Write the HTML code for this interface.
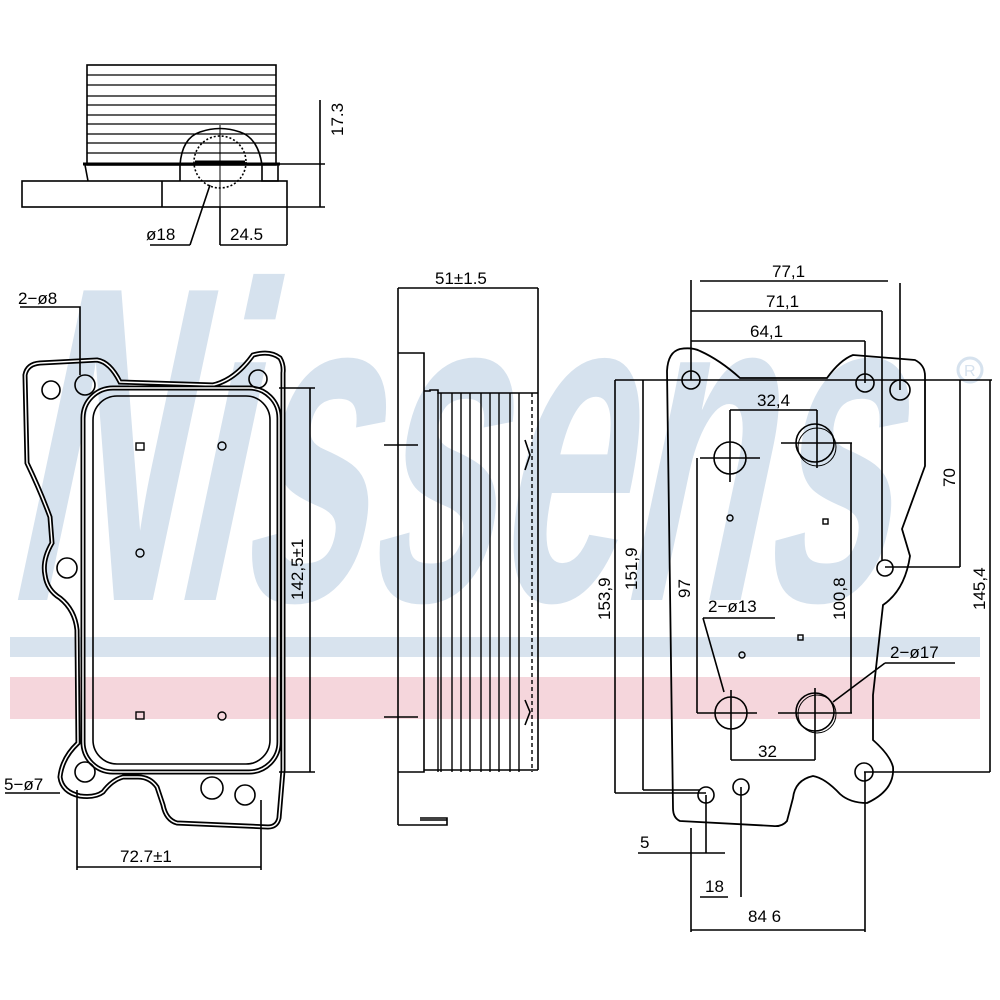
<!DOCTYPE html>
<html><head><meta charset="utf-8"><style>
html,body{margin:0;padding:0;background:#fff;}
svg{display:block;}
text{font-family:"Liberation Sans",sans-serif;fill:#000;}
</style></head><body>
<svg width="1000" height="1000" viewBox="0 0 1000 1000" xmlns="http://www.w3.org/2000/svg">
<!-- watermark -->
<g transform="translate(160 0) skewX(-12)">
<text x="-30" y="600" font-size="450" font-weight="bold" textLength="880" lengthAdjust="spacingAndGlyphs" style="fill:#d6e2ee">Nissens</text>
</g>
<circle cx="970" cy="370" r="12" fill="none" stroke="#d6e2ee" stroke-width="3"/>
<text x="964" y="376" font-size="16" style="fill:#d6e2ee">R</text>
<rect x="10" y="637" width="970" height="20" fill="#d8e3ee"/>
<rect x="10" y="677" width="970" height="42" fill="#f5d6dc"/>

<g fill="none" stroke="#000" stroke-width="1.6">
<!-- TOP VIEW -->
<rect x="87" y="65" width="189" height="100"/>
<g stroke-width="1.2">
<line x1="87" y1="75" x2="276" y2="75"/><line x1="87" y1="85" x2="276" y2="85"/>
<line x1="87" y1="96" x2="276" y2="96"/><line x1="87" y1="105" x2="276" y2="105"/>
<line x1="87" y1="115" x2="276" y2="115"/><line x1="87" y1="124" x2="276" y2="124"/>
<line x1="87" y1="134" x2="276" y2="134"/><line x1="87" y1="143" x2="276" y2="143"/>
<line x1="87" y1="153" x2="276" y2="153"/>
</g>
<line x1="83" y1="164" x2="280" y2="164" stroke-width="3"/>
<path d="M85 165 L88 181 M180 165 V181 M262 165 V181 L278 181 V165"/>
<rect x="22" y="181" width="265" height="26"/>
<line x1="162" y1="181" x2="162" y2="207"/>
<path d="M180 165 Q182 138 200 132 Q220 125 240 132 Q258 138 262 165"/>
<circle cx="220" cy="162" r="26" stroke-dasharray="2 2"/>
<line x1="195" y1="162" x2="245" y2="162" stroke-width="3"/>
<line x1="220" y1="125" x2="220" y2="215" stroke-width="1"/>
<line x1="320" y1="100" x2="320" y2="207"/>
<line x1="280" y1="164" x2="325" y2="164"/><line x1="287" y1="207" x2="325" y2="207"/>
<line x1="210" y1="185" x2="190" y2="245"/>
<line x1="150" y1="245" x2="190" y2="245"/>
<line x1="220" y1="207" x2="220" y2="245"/><line x1="287" y1="207" x2="287" y2="245"/>
<line x1="220" y1="245" x2="287" y2="245"/>

<!-- LEFT VIEW gasket -->
<path stroke-width="5" d="M25 375 Q27 364 40 363 L97 360 Q110 362 120 382 L213 385 Q235 380 253 355 Q270 350 280 358 Q284 365 283 373 L283 770 L279 818 Q277 827 268 827 L177 823 Q166 820 163 805 L157 787 Q150 777 138 777 L123 777 Q112 780 103 792 Q95 798 80 796 Q62 792 60 777 Q62 758 78 743 L77 630 Q75 610 60 598 Q47 590 45 575 Q42 560 52 543 L50 517 Q40 490 27 463 Z"/>
<path stroke="#fff" stroke-width="1.5" d="M25 375 Q27 364 40 363 L97 360 Q110 362 120 382 L213 385 Q235 380 253 355 Q270 350 280 358 Q284 365 283 373 L283 770 L279 818 Q277 827 268 827 L177 823 Q166 820 163 805 L157 787 Q150 777 138 777 L123 777 Q112 780 103 792 Q95 798 80 796 Q62 792 60 777 Q62 758 78 743 L77 630 Q75 610 60 598 Q47 590 45 575 Q42 560 52 543 L50 517 Q40 490 27 463 Z"/>
<rect x="83" y="388" width="196" height="384" rx="30" stroke-width="5"/>
<rect x="83" y="388" width="196" height="384" rx="30" stroke="#fff" stroke-width="1.5"/>
<rect x="93" y="396" width="177" height="368" rx="24"/>
<circle cx="51" cy="390" r="9"/><circle cx="85" cy="385" r="10"/><circle cx="258" cy="379" r="9"/>
<circle cx="67" cy="568" r="10"/><circle cx="85" cy="772" r="10"/><circle cx="212" cy="788" r="11"/><circle cx="245" cy="795" r="10"/>
<g stroke-width="1.4">
<rect x="136" y="443" width="8" height="7"/><circle cx="222" cy="446" r="4"/>
<circle cx="140" cy="553" r="4"/><rect x="136" y="712" width="8" height="7"/><circle cx="222" cy="716" r="4"/>
</g>
<line x1="279" y1="388" x2="315" y2="388"/><line x1="279" y1="772" x2="315" y2="772"/>
<line x1="310" y1="388" x2="310" y2="772"/>
<path d="M20 307 H80 V375"/>
<line x1="5" y1="793" x2="60" y2="793"/>
<line x1="77" y1="790" x2="77" y2="870"/><line x1="261" y1="800" x2="261" y2="870"/>
<line x1="77" y1="867" x2="261" y2="867"/>

<!-- SIDE VIEW -->
<line x1="398" y1="288" x2="398" y2="825"/>
<line x1="398" y1="288" x2="538" y2="288"/>
<line x1="538" y1="288" x2="538" y2="770"/>
<path d="M398 353 H424 V772 H398"/>
<path d="M424 391 H430 V390 H438 V393 H538"/>
<path d="M424 770 H538"/>
<g stroke-width="1.4">
<line x1="438" y1="393" x2="438" y2="772"/><line x1="441" y1="393" x2="441" y2="772"/>
<line x1="452" y1="393" x2="452" y2="772"/><line x1="461" y1="393" x2="461" y2="772"/>
<line x1="470" y1="393" x2="470" y2="772"/><line x1="481" y1="393" x2="481" y2="772"/>
<line x1="490" y1="393" x2="490" y2="772"/><line x1="499" y1="393" x2="499" y2="772"/>
<line x1="510" y1="393" x2="510" y2="772"/><line x1="519" y1="393" x2="519" y2="772"/>
<line x1="532" y1="393" x2="532" y2="772" stroke-dasharray="4 3"/>
</g>
<path d="M525 440 L530 455 L525 470 M525 700 L530 712 L525 725"/>
<line x1="384" y1="445" x2="418" y2="445"/><line x1="384" y1="717" x2="418" y2="717"/>
<path d="M398 825 H447 V818 H420 M447 825 H445"/>
<line x1="420" y1="820" x2="447" y2="820"/>

<!-- RIGHT VIEW -->
<path stroke-width="1.8" d="M667 371 Q668 352 680 349 Q692 347 700 351 Q720 360 740 378 L827 378 Q840 360 853 355 L915 360 Q925 365 925 376 L925 466 L902 529 L910 556 Q905 590 883 605 L873 695 L873 740 Q890 755 893 767 Q895 790 867 803 Q850 803 840 794 Q825 778 813 776 Q795 780 793 798 L787 821 Q782 827 773 826 L680 821 Q673 818 673 808 Z"/>
<circle cx="691" cy="380" r="9"/><circle cx="865" cy="383" r="9"/><circle cx="900" cy="390" r="10"/>
<circle cx="885" cy="568" r="8"/><circle cx="864" cy="772" r="9"/><circle cx="706" cy="795" r="8"/><circle cx="741" cy="787" r="8"/>
<circle cx="730" cy="458" r="16"/><circle cx="815" cy="443" r="19"/><circle cx="817" cy="447" r="19" stroke-width="1"/>
<circle cx="731" cy="713" r="16"/><circle cx="815" cy="712" r="19"/><circle cx="817" cy="714" r="19" stroke-width="1"/>
<g stroke-width="1.4">
<circle cx="730" cy="518" r="3"/><rect x="823" y="519" width="5" height="5"/>
<circle cx="742" cy="655" r="3"/><rect x="798" y="635" width="5" height="5"/>
</g>
<line x1="700" y1="458" x2="760" y2="458"/><line x1="781" y1="443" x2="852" y2="443"/>
<line x1="697" y1="713" x2="757" y2="713"/><line x1="778" y1="713" x2="852" y2="713"/>
<line x1="730" y1="410" x2="730" y2="482"/><line x1="817" y1="410" x2="817" y2="468"/>
<line x1="730" y1="410" x2="817" y2="410"/>
<line x1="731" y1="690" x2="731" y2="760"/><line x1="815" y1="688" x2="815" y2="760"/>
<line x1="731" y1="760" x2="815" y2="760"/>
<line x1="697" y1="458" x2="697" y2="713"/><line x1="851" y1="443" x2="851" y2="713"/>
<path d="M703 618 H775 M703 618 L724 692"/>
<path d="M885 663 H955 M885 663 L833 702"/>
<line x1="691" y1="280" x2="691" y2="380"/><line x1="900" y1="283" x2="900" y2="390"/>
<line x1="700" y1="281" x2="888" y2="281"/>
<line x1="691" y1="311" x2="882" y2="311"/><line x1="882" y1="311" x2="882" y2="560"/>
<line x1="691" y1="341" x2="865" y2="341"/><line x1="865" y1="341" x2="865" y2="383"/>
<line x1="615" y1="380" x2="992" y2="380"/>
<line x1="615" y1="380" x2="615" y2="793"/><line x1="643" y1="380" x2="643" y2="790"/>
<line x1="615" y1="793" x2="706" y2="793"/><line x1="643" y1="790" x2="700" y2="790"/>
<line x1="990" y1="380" x2="990" y2="772"/><line x1="864" y1="772" x2="990" y2="772"/>
<line x1="960" y1="380" x2="960" y2="567"/><line x1="885" y1="567" x2="960" y2="567"/>
<line x1="638" y1="853" x2="725" y2="853"/><line x1="706" y1="795" x2="706" y2="853"/>
<line x1="700" y1="897" x2="728" y2="897"/><line x1="741" y1="787" x2="741" y2="897"/>
<line x1="691" y1="828" x2="691" y2="932"/><line x1="865" y1="772" x2="865" y2="932"/>
<line x1="691" y1="930" x2="865" y2="930"/>
</g>

<!-- texts -->
<g font-size="17">
<text x="0" y="0" transform="translate(343 136) rotate(-90)">17.3</text>
<text x="146" y="240">ø18</text>
<text x="230" y="240">24.5</text>
<text x="18" y="304">2−ø8</text>
<text x="4" y="790">5−ø7</text>
<text x="120" y="862">72.7±1</text>
<text x="0" y="0" transform="translate(303 600) rotate(-90)">142,5±1</text>
<text x="435" y="284">51±1.5</text>
<text x="772" y="277">77,1</text>
<text x="766" y="307">71,1</text>
<text x="750" y="337">64,1</text>
<text x="757" y="406">32,4</text>
<text x="0" y="0" transform="translate(610 620) rotate(-90)">153,9</text>
<text x="0" y="0" transform="translate(637 590) rotate(-90)">151,9</text>
<text x="0" y="0" transform="translate(690 598) rotate(-90)">97</text>
<text x="0" y="0" transform="translate(845 620) rotate(-90)">100,8</text>
<text x="0" y="0" transform="translate(955 487) rotate(-90)">70</text>
<text x="0" y="0" transform="translate(985 610) rotate(-90)">145,4</text>
<text x="708" y="612">2−ø13</text>
<text x="890" y="658">2−ø17</text>
<text x="758" y="757">32</text>
<text x="640" y="848">5</text>
<text x="705" y="892">18</text>
<text x="748" y="922">84 6</text>
</g>
</svg>
</body></html>
